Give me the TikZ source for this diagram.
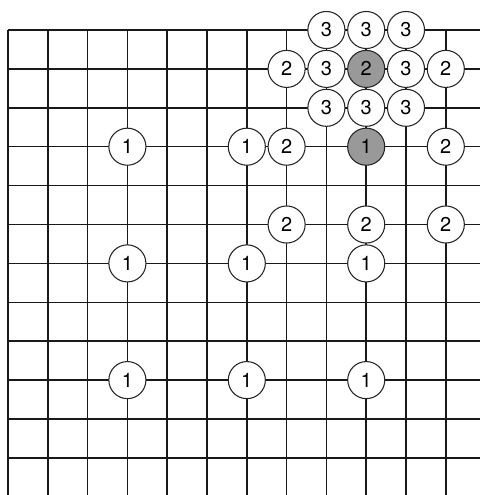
\documentclass[tikz,border=0pt]{standalone}
\usepackage{fontspec}
\setmainfont{TeX Gyre Heros}
\begin{document}
\begin{tikzpicture}[x=0.75pt,y=-0.75pt,
  gridline/.style={line width=1.2pt,draw=black!90},
  stone/.style={circle,draw=black!85,line width=0.8pt,fill=white,minimum size=27.8pt,inner sep=0pt,font=\fontsize{15}{15}\selectfont},
  dark/.style={stone,fill=black!40}]
\useasboundingbox (0,0) rectangle (480,495);
\def\gx#1{8+39.8*#1}
\def\gy#1{30+38.9*#1}
% grid
\foreach \j in {0,...,11} \draw[gridline] (8,{\gy{\j}}) -- (480,{\gy{\j}});
\foreach \i in {0,...,11} \draw[gridline] ({\gx{\i}},30) -- ({\gx{\i}},495);
% stones: name, column, row, label, style
\foreach \n/\c/\r/\t/\s in {
  a/8/0/3/stone, b/9/0/3/stone, c/10/0/3/stone,
  d/7/1/2/stone, e/8/1/3/stone, f/9/1/2/dark, g/10/1/3/stone, h/11/1/2/stone,
  k/8/2/3/stone, l/9/2/3/stone, m/10/2/3/stone,
  n/3/3/1/stone, o/6/3/1/stone, p/7/3/2/stone, q/9/3/1/dark, r/11/3/2/stone,
  s/7/5/2/stone, t/9/5/2/stone, u/11/5/2/stone,
  v/3/6/1/stone, w/6/6/1/stone, x/9/6/1/stone,
  y/3/9/1/stone, z/6/9/1/stone, zz/9/9/1/stone}
  \node[\s] (\n) at ({\gx{\c}},{\gy{\r}}) {\t};
\end{tikzpicture}
\end{document}
